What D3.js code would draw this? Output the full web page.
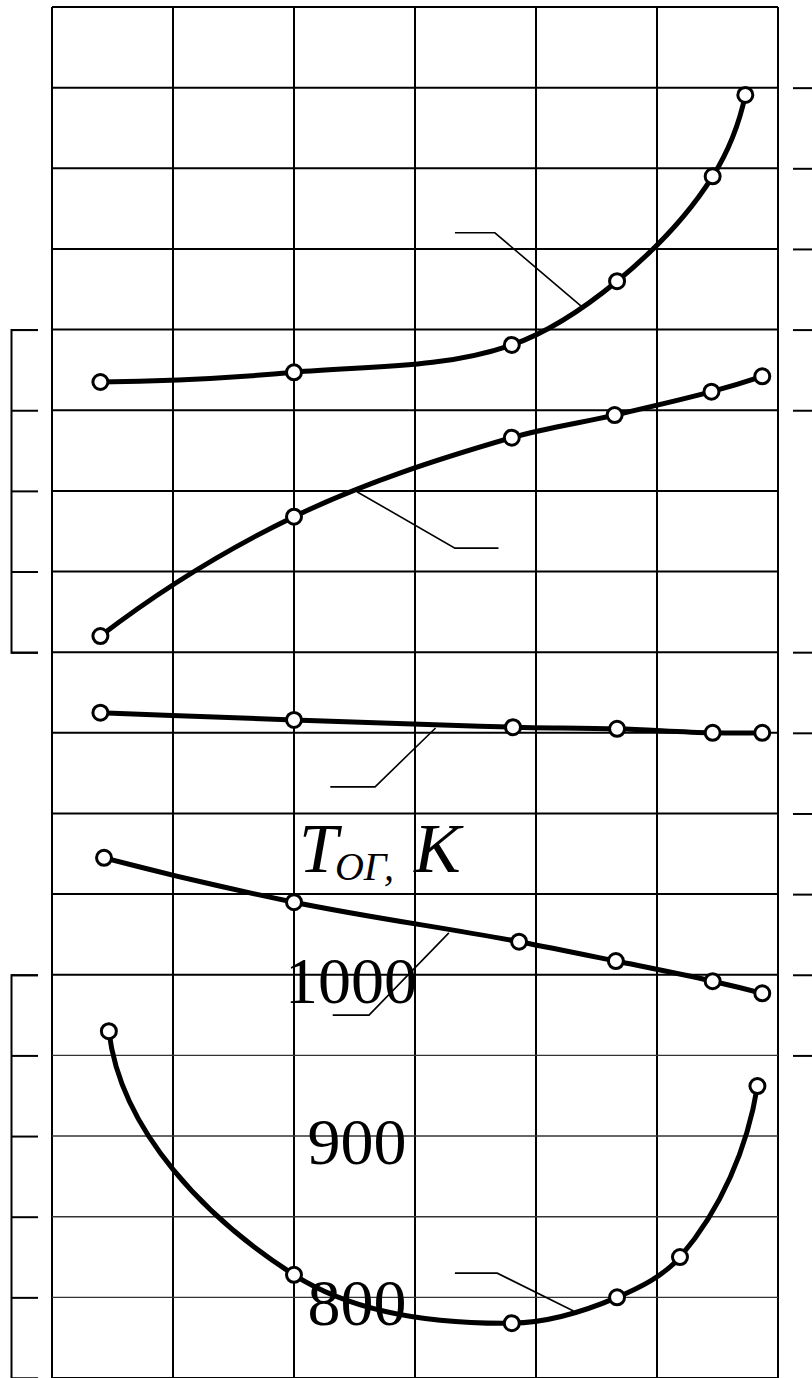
<!DOCTYPE html>
<html>
<head>
<meta charset="utf-8">
<script src="https://cdn.jsdelivr.net/npm/d3@7"></script>
<style>
  html, body { margin: 0; padding: 0; background: #fff; }
  svg { display: block; }
  .serif { font-family: "Liberation Serif", "Times New Roman", serif; }
</style>
</head>
<body>
<svg id="chart" width="812" height="1378"></svg>
<script>
// ---- Data -------------------------------------------------------------
// Horizontal positions are given in grid divisions (0 … 6);
// curves 1–4 are read against the grid rows (0 … 17), curve 5 in kelvin.
const gridCols = d3.range(0, 7);
const gridRows = d3.range(0, 18);

const x1 = [0.40, 2.00, 3.80, 4.67, 5.46, 5.73];
const y1 = [12.35, 12.47, 12.81, 13.60, 14.90, 15.91];

const x2 = [0.40, 2.00, 3.80, 4.65, 5.45, 5.87];
const y2 = [9.20, 10.68, 11.66, 11.94, 12.23, 12.42];

const x3 = [0.40, 2.00, 3.81, 4.67, 5.46, 5.87];
const y3 = [8.25, 8.16, 8.07, 8.05, 8.00, 8.00];

const x4 = [0.43, 2.00, 3.86, 4.66, 5.46, 5.87];
const y4 = [6.45, 5.90, 5.41, 5.17, 4.92, 4.77];

// exhaust gas temperature T_ОГ, K
const x5 = [0.47, 2.00, 3.80, 4.67, 5.19, 5.83];
const tOG = [965, 814, 784, 800, 825, 931];

const tLabels = [1000, 900, 800];
const tTicks = [750, 800, 850, 900, 950, 1000];

// scale brackets (grid rows)
const leftUpperTicks = [9, 10, 11, 12, 13];
const rightUpperTicks = [12, 13, 14, 15, 16];
const rightLowerTicks = [4, 5, 6, 7, 8, 9];

// leader lines pointing at each curve (grid units)
const leader1 = [[3.33, 14.20], [3.66, 14.20], [4.39, 13.27]];
const leader2 = [[2.52, 10.99], [3.33, 10.29], [3.69, 10.29]];
const leader3 = [[3.17, 8.06], [2.67, 7.33], [2.30, 7.33]];
const leader4 = [[3.28, 5.52], [2.62, 4.50], [2.32, 4.50]];
const leader5 = [[3.33, 1.30], [3.68, 1.30], [4.31, 0.83]];

// ---- Scales -----------------------------------------------------------
const W = 812, H = 1378;
const x = d3.scaleLinear().domain([0, 6]).range([52, 778]);
const y = d3.scaleLinear().domain([0, 17]).range([1378, 7]);
// one grid row = 50 K, bottom row starts at 750 K
const yT = d3.scaleLinear().domain([750, 750 + 17 * 50]).range([1378, 7]);

const svg = d3.select("#chart");

// ---- Smooth curve through the points (chord-scaled Bézier) -----------
function curveChord(opts) {
  const startDir = opts && opts.start, endDir = opts && opts.end;
  function Curve(context) { this._context = context; }
  Curve.prototype = {
    areaStart() { this._line = 0; },
    areaEnd() { this._line = NaN; },
    lineStart() { this._pts = []; },
    point(px, py) { this._pts.push([+px, +py]); },
    lineEnd() {
      const p = this._pts, n = p.length, c = this._context;
      if (!n) return;
      c.moveTo(p[0][0], p[0][1]);
      if (n === 1) return;
      if (n === 2) { c.lineTo(p[1][0], p[1][1]); return; }
      const norm = v => { const l = Math.hypot(v[0], v[1]) || 1; return [v[0] / l, v[1] / l]; };
      const chords = [];
      for (let i = 0; i < n - 1; i++) chords.push(norm([p[i + 1][0] - p[i][0], p[i + 1][1] - p[i][1]]));
      const d = new Array(n);
      for (let i = 1; i < n - 1; i++) d[i] = norm([chords[i - 1][0] + chords[i][0], chords[i - 1][1] + chords[i][1]]);
      d[0] = startDir ? norm(startDir) : norm([2 * chords[0][0] - d[1][0], 2 * chords[0][1] - d[1][1]]);
      d[n - 1] = endDir ? norm(endDir) : norm([2 * chords[n - 2][0] - d[n - 2][0], 2 * chords[n - 2][1] - d[n - 2][1]]);
      for (let i = 0; i < n - 1; i++) {
        const a = p[i], b = p[i + 1];
        const L = Math.hypot(b[0] - a[0], b[1] - a[1]) / 3;
        c.bezierCurveTo(a[0] + d[i][0] * L, a[1] + d[i][1] * L,
                        b[0] - d[i + 1][0] * L, b[1] - d[i + 1][1] * L,
                        b[0], b[1]);
      }
    }
  };
  return context => new Curve(context);
}

// ---- Grid -------------------------------------------------------------
const grid = svg.append("g").attr("stroke", "#000").attr("fill", "none");
grid.selectAll("line.v").data(gridCols).join("line")
  .attr("class", "v")
  .attr("x1", d => x(d)).attr("x2", d => x(d))
  .attr("y1", y(17)).attr("y2", y(0))
  .attr("stroke-width", 2);
grid.selectAll("line.h").data(gridRows).join("line")
  .attr("class", "h")
  .attr("x1", x(0)).attr("x2", x(6))
  .attr("y1", d => y(d)).attr("y2", d => y(d))
  .attr("stroke", d => (d >= 1 && d <= 4) ? "#333" : "#000")
  .attr("stroke-width", d => (d >= 1 && d <= 4) ? 1.4 : 2);

// ---- Scale brackets and side ticks -----------------------------------
function styleAxis(g) {
  g.selectAll("text").remove();
  g.selectAll("path, line").attr("stroke", "#000").attr("stroke-width", 2);
}
const yLeftUpper = y.copy().domain([9, 13]).range([y(9), y(13)]);
svg.append("g").attr("transform", "translate(11,0)")
  .call(d3.axisRight(yLeftUpper).tickValues(leftUpperTicks).tickSize(27).tickFormat(""))
  .call(styleAxis);

const yLeftLower = yT.copy().domain([750, 1000]).range([yT(750), yT(1000)]);
svg.append("g").attr("transform", "translate(11,0)")
  .call(d3.axisRight(yLeftLower).tickValues(tTicks).tickSize(27).tickFormat(""))
  .call(styleAxis);

svg.append("g").attr("transform", `translate(${W},0)`)
  .call(d3.axisLeft(y).tickValues(rightUpperTicks).tickSize(19).tickFormat(""))
  .call(g => g.select(".domain").remove())
  .call(styleAxis);
svg.append("g").attr("transform", `translate(${W},0)`)
  .call(d3.axisLeft(y).tickValues(rightLowerTicks).tickSize(19).tickFormat(""))
  .call(g => g.select(".domain").remove())
  .call(styleAxis);

// ---- Temperature scale labels ----------------------------------------
const title = svg.append("text").attr("class", "serif")
  .attr("x", 299).attr("y", 872)
  .attr("font-style", "italic").attr("font-size", 70).attr("fill", "#000");
title.append("tspan").text("T");
title.append("tspan").attr("font-size", 40).attr("dy", 8).attr("dx", -3).text("ОГ,");
title.append("tspan").attr("dy", -8).attr("dx", 20).text("K");

svg.append("g").selectAll("text").data(tLabels).join("text")
  .attr("class", "serif")
  .attr("x", d => d >= 1000 ? 351 : 357)
  .attr("y", d => yT(d) + 28)
  .attr("text-anchor", "middle")
  .attr("font-size", 66)
  .attr("fill", "#000")
  .text(d => d);

// ---- Curves -----------------------------------------------------------
const series = [
  { xs: x1, vs: y1, sy: y },
  { xs: x2, vs: y2, sy: y },
  { xs: x3, vs: y3, sy: y },
  { xs: x4, vs: y4, sy: y },
  { xs: x5, vs: tOG, sy: yT, start: [0.12, 1] }
];

const leaders = [leader1, leader2, leader3, leader4, leader5];
const leaderLine = d3.line().x(d => x(d[0])).y(d => y(d[1]));
svg.append("g").selectAll("path").data(leaders).join("path")
  .attr("d", leaderLine)
  .attr("fill", "none").attr("stroke", "#000").attr("stroke-width", 1.6);

const curves = svg.append("g");
series.forEach(s => {
  const pts = s.xs.map((v, i) => [v, s.vs[i]]);
  const line = d3.line()
    .x(d => x(d[0])).y(d => s.sy(d[1]))
    .curve(curveChord({ start: s.start, end: s.end }));
  curves.append("path")
    .attr("d", line(pts))
    .attr("fill", "none")
    .attr("stroke", "#000")
    .attr("stroke-width", 5)
    .attr("stroke-linecap", "round")
    .attr("stroke-linejoin", "round");
});

const markers = svg.append("g");
series.forEach(s => {
  const pts = s.xs.map((v, i) => [v, s.vs[i]]);
  markers.append("g").selectAll("circle").data(pts).join("circle")
    .attr("cx", d => x(d[0]))
    .attr("cy", d => s.sy(d[1]))
    .attr("r", 7.5)
    .attr("fill", "#fff")
    .attr("stroke", "#000")
    .attr("stroke-width", 3);
});
</script>
</body>
</html>
